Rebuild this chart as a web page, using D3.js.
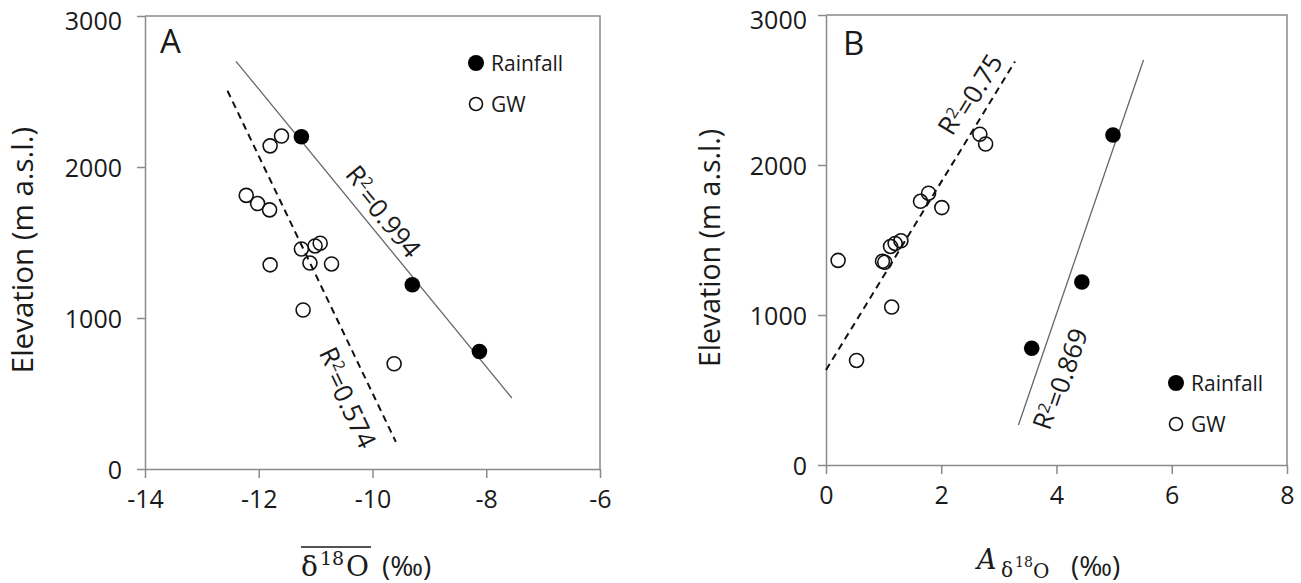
<!DOCTYPE html>
<html>
<head>
<meta charset="utf-8">
<script src="https://cdn.jsdelivr.net/npm/d3@7"></script>
<style>
  body { margin: 0; background: #fff; }
  text { font-family: "Open Sans", sans-serif; fill: #1a1a1a; }
</style>
</head>
<body>
<script>
// values
const rainElev = [2200, 1220, 778];
const rainD18O = [-11.25, -9.3, -8.12];
const rainAmp = [4.98, 4.44, 3.57];

const gwElev = [2205, 2140, 1812, 1758, 1716, 1495, 1477, 1457, 1364, 1358, 1352, 1053, 697];
const gwD18O = [-11.6, -11.8, -12.22, -12.02, -11.81, -10.92, -11.01, -11.25, -11.10, -10.72, -11.80, -11.22, -9.62];
const gwAmp = [2.67, 2.77, 1.78, 1.64, 2.01, 1.30, 1.20, 1.12, 0.21, 0.98, 1.02, 1.14, 0.53];

// regression line end points [x, elevation]
const fitRainA = [[-12.4, 2700], [-7.55, 470]];
const fitGwA = [[-12.55, 2505], [-9.59, 180]];
const fitGwB = [[0, 633], [3.28, 2690]];
const fitRainB = [[3.34, 267], [5.51, 2700]];

// R² labels: text, anchor [x, elevation]
const r2A = [["0.994", [-9.78, 1715]], ["0.574", [-10.40, 479]]];
const r2B = [["0.75", [2.47, 2478]], ["0.869", [4.03, 578]]];

const xTicksA = [-14, -12, -10, -8, -6];
const xTicksB = [0, 2, 4, 6, 8];
const yTicks = [0, 1000, 2000, 3000];

const svg = d3.select('body')
  .append('svg')
  .attr('width', 1301)
  .attr('height', 583);

function panel(opt) {
  const x = d3.scaleLinear().domain(opt.xDomain).range(opt.xRange);
  const y = d3.scaleLinear().domain([0, 3000]).range(opt.yRange);
  const g = svg.append("g");

  const gx = g.append("g")
    .attr("transform", `translate(0,${opt.yRange[0]})`)
    .call(d3.axisBottom(x).tickValues(opt.xTicks).tickSize(9).tickSizeOuter(0)
      .tickPadding(12).tickFormat(d => String(d)));
  const gy = g.append("g")
    .attr("transform", `translate(${opt.xRange[0]},0)`)
    .call(d3.axisLeft(y).tickValues(yTicks).tickSize(8).tickSizeOuter(0)
      .tickPadding(opt.yPad).tickFormat(d => String(d)));
  [gx, gy].forEach(a => {
    a.selectAll("path, line").attr("stroke", "#8a8a8a").attr("stroke-width", 1.5);
    a.selectAll("text").style("font-size", "25px").attr("fill", "#1a1a1a");
  });
  // top label sits a little lower, as in the figure
  gy.selectAll(".tick text").attr("dy", d => d === 3000 ? "0.54em" : "0.38em");

  // box
  g.append("path")
    .attr("d", `M${opt.xRange[0]},${opt.yRange[1]}H${opt.xRange[1]}V${opt.yRange[0]}`)
    .attr("fill", "none").attr("stroke", "#8a8a8a").attr("stroke-width", 1.5);

  const line = d3.line().x(d => x(d[0])).y(d => y(d[1]));
  opt.fits.forEach(f => {
    g.append("path").attr("d", line(f.pts))
      .attr("fill", "none")
      .attr("stroke", f.dash ? "#111" : "#666")
      .attr("stroke-width", f.dash ? 2 : 1.3)
      .attr("stroke-dasharray", f.dash ? "7,5" : null);
  });

  // R² labels along the lines
  opt.labels.forEach((l, i) => {
    const p = opt.fits[i].pts;
    const ang = Math.atan2(y(p[1][1]) - y(p[0][1]), x(p[1][0]) - x(p[0][0])) * 180 / Math.PI;
    const cx = x(l[1][0]), cy = y(l[1][1]);
    const t = g.append("text")
      .attr("transform", `translate(${cx},${cy}) rotate(${ang})`)
      .attr("text-anchor", "middle")
      .attr("dy", "0.35em")
      .style("font-size", "26px");
    t.append("tspan").text("R");
    t.append("tspan").attr("dy", "-0.45em").style("font-size", "16px").text("2");
    t.append("tspan").attr("dy", "0.45em").text("=" + l[0]);
  });

  g.selectAll(".gw")
    .data(opt.gw)
    .join("circle")
    .attr("cx", d => x(d[0])).attr("cy", d => y(d[1]))
    .attr("r", 7)
    .attr("fill", "none").attr("stroke", "#111").attr("stroke-width", 1.6);

  g.selectAll(".rain")
    .data(opt.rain)
    .join("circle")
    .attr("cx", d => x(d[0])).attr("cy", d => y(d[1]))
    .attr("r", 7.8)
    .attr("fill", "#000");

  // legend
  const lg = g.append("g").attr("transform", `translate(${opt.legend[0]},${opt.legend[1]})`);
  lg.append("circle").attr("cx", 0).attr("cy", 0).attr("r", 8).attr("fill", "#000");
  lg.append("circle").attr("cx", 0).attr("cy", 41).attr("r", 6.5)
    .attr("fill", "none").attr("stroke", "#111").attr("stroke-width", 1.6);
  lg.append("text").attr("x", 15).attr("y", 8).style("font-size", "21px").text("Rainfall");
  lg.append("text").attr("x", 15).attr("y", 49).style("font-size", "21px").text("GW");

  g.append("text").attr("x", opt.tag[0]).attr("y", opt.tag[1])
    .style("font-size", "33px").text(opt.tagText);

  g.append("text")
    .attr("transform", `translate(${opt.yTitle[0]},${opt.yTitle[1]}) rotate(-90)`)
    .attr("text-anchor", "middle")
    .style("font-size", opt.yTitle[2] + "px")
    .text("Elevation (m a.s.l.)");

  return g;
}

const gA = panel({
  xDomain: [-14, -6], xRange: [145, 600], yRange: [469, 16], xTicks: xTicksA, yPad: 15,
  rain: rainD18O.map((v, i) => [v, rainElev[i]]),
  gw: gwD18O.map((v, i) => [v, gwElev[i]]),
  fits: [{pts: fitRainA, dash: false}, {pts: fitGwA, dash: true}],
  labels: r2A,
  legend: [476, 63], tag: [160, 53], tagText: "A",
  yTitle: [33, 250, 29.5]
});

const gB = panel({
  xDomain: [0, 8], xRange: [826, 1287], yRange: [465, 15], xTicks: xTicksB, yPad: 11,
  rain: rainAmp.map((v, i) => [v, rainElev[i]]),
  gw: gwAmp.map((v, i) => [v, gwElev[i]]),
  fits: [{pts: fitGwB, dash: true}, {pts: fitRainB, dash: false}],
  labels: r2B,
  legend: [1176, 383], tag: [843, 55], tagText: "B",
  yTitle: [720, 248, 28.5]
});

// x-axis titles
const serif = '"DejaVu Serif", "Liberation Serif", serif';
const tA = gA.append("text").attr("y", 576);
tA.append("tspan").attr("x", 301).style("font-family", serif).style("font-size", "28px").text("δ");
tA.append("tspan").attr("x", 320).attr("y", 565).style("font-family", serif).style("font-size", "19px").text("18");
tA.append("tspan").attr("x", 346).attr("y", 576).style("font-family", serif).style("font-size", "28px").text("O");
tA.append("tspan").attr("x", 382).attr("y", 576).style("font-size", "28px").text("(‰)");
gA.append("line").attr("x1", 301).attr("x2", 371).attr("y1", 547).attr("y2", 547)
  .attr("stroke", "#1a1a1a").attr("stroke-width", 1.6);

const tB = gB.append("text").attr("y", 569);
tB.append("tspan").attr("x", 977).style("font-family", serif).style("font-style", "italic").style("font-size", "27px").text("A");
tB.append("tspan").attr("x", 1001).attr("y", 577).style("font-family", serif).style("font-size", "20px").text("δ");
tB.append("tspan").attr("x", 1015).attr("y", 567).style("font-family", serif).style("font-size", "14px").text("18");
tB.append("tspan").attr("x", 1033).attr("y", 578).style("font-family", serif).style("font-size", "20px").text("O");
tB.append("tspan").attr("x", 1071).attr("y", 576).style("font-size", "28px").text("(‰)");
</script>
</body>
</html>
